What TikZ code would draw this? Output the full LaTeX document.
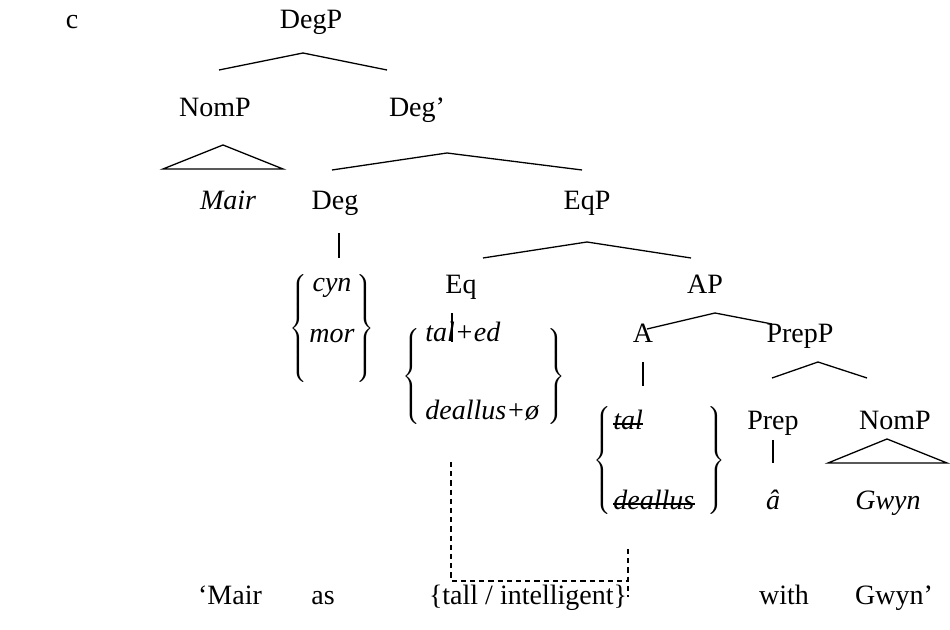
\documentclass[tikz,border=0pt]{standalone}
\usepackage{fontspec}
\setmainfont{Liberation Serif}
\usetikzlibrary{positioning}

% tall braces round the lexical alternatives
\newcommand{\bracel}[1]{$\left\{\vcenter{\hbox{\rule{0pt}{#1}}}\right.$}
\newcommand{\bracer}[1]{$\left.\vcenter{\hbox{\rule{0pt}{#1}}}\right\}$}
\delimitershortfall=0pt
\delimiterfactor=1000

\begin{document}
\begin{tikzpicture}[
        x=0.5pt, y=-0.5pt,
        every node/.style={inner sep=0pt, anchor=base, font=\fontsize{14}{16}\selectfont},
        lex/.style={font=\fontsize{14}{16}\selectfont\itshape},
        brc/.style={anchor=center},
        branch/.style={line width=0.65pt},
        strike/.style={line width=0.6pt},
        trace/.style={line width=0.65pt, dash pattern=on 2.6pt off 2pt}
    ]
    \useasboundingbox (0,0) rectangle (950,630);

    % category labels
    \node (ex) at (72,29) {c};
    \node (degp) at (311,29) {DegP};
    \node (nomp1) at (215,117) {NomP};
    \node (degbar) at (417,117) {Deg'};
    \node[lex] (mair) at (228,210) {Mair};
    \node (deg) at (335,210) {Deg};
    \node (eqp) at (587,210) {EqP};
    \node (eq) at (461,294) {Eq};
    \node (ap) at (705,294) {AP};
    \node (a) at (643,343) {A};
    \node (prepp) at (800,343) {PrepP};
    \node (prep) at (773,430) {Prep};
    \node (nomp2) at (895,430) {NomP};

    % words
    \node[lex] (cyn) at (332,292) {cyn};
    \node[lex] (mor) at (332,343) {mor};
    \node[lex, anchor=base west] (taled) at (425,342) {tal+ed};
    \node[lex, anchor=base west] (deallusnull) at (425,420) {deallus+ø};
    \node[lex, anchor=base west] (tal) at (613,430) {tal};
    \node[lex, anchor=base west] (deallus) at (613,510) {deallus};
    \node[lex] (prepword) at (773,510) {â};
    \node[lex] (gwyn) at (888,510) {Gwyn};

    % struck-out copies
    \draw[strike] ([yshift=3pt]tal.base west) -- ([yshift=3pt]tal.base east);
    \draw[strike] ([yshift=3pt]deallus.base west) -- ([yshift=3pt]deallus.base east);

    % braces
    \node[brc] (cynL) at (300,329) {\bracel{49pt}};
    \node[brc] (cynR) at (364,329) {\bracer{49pt}};
    \node[brc] (taledL) at (413,377) {\bracel{47pt}};
    \node[brc] (taledR) at (555,377) {\bracer{47pt}};
    \node[brc] (talL) at (604,461) {\bracel{51pt}};
    \node[brc] (talR) at (715,461) {\bracer{51pt}};

    % gloss
    \node (gl1) at (230,605) {`Mair};
    \node (gl2) at (323,605) {as};
    \node (gl3) at (528,605) {\{tall / intelligent\}};
    \node (gl4) at (784,605) {with};
    \node (gl5) at (894,605) {Gwyn'};

    % branch points
    \coordinate (degp-b) at (303,53);
    \coordinate (nomp1-t) at (219,70);
    \coordinate (degbar-t) at (387,70);
    \coordinate (nomp1-b) at (223,145);
    \coordinate (nomp1-bl) at (163,169);
    \coordinate (nomp1-br) at (283,169);
    \coordinate (degbar-b) at (447,153);
    \coordinate (deg-t) at (332,170);
    \coordinate (eqp-t) at (582,170);
    \coordinate (deg-b) at (339,233);
    \coordinate (cyn-t) at (339,258);
    \coordinate (eqp-b) at (587,242);
    \coordinate (eq-t) at (483,258);
    \coordinate (ap-t) at (691,258);
    \coordinate (eq-b) at (452,313);
    \coordinate (taled-t) at (452,342);
    \coordinate (ap-b) at (715,313);
    \coordinate (a-t) at (647,329);
    \coordinate (prepp-t) at (772,324);
    \coordinate (a-b) at (643,362);
    \coordinate (tal-t) at (643,386);
    \coordinate (prepp-b) at (818,362);
    \coordinate (prep-t) at (772,378);
    \coordinate (nomp2-t) at (867,378);
    \coordinate (prep-b) at (773,440);
    \coordinate (prepword-t) at (773,463);
    \coordinate (nomp2-b) at (887,439);
    \coordinate (nomp2-bl) at (828,463);
    \coordinate (nomp2-br) at (947,463);

    \draw[branch] (nomp1-t) -- (degp-b) -- (degbar-t);
    \draw[branch] (nomp1-b) -- (nomp1-bl) -- (nomp1-br) -- cycle;
    \draw[branch] (deg-t) -- (degbar-b) -- (eqp-t);
    \draw[branch] (deg-b) -- (cyn-t);
    \draw[branch] (eq-t) -- (eqp-b) -- (ap-t);
    \draw[branch] (eq-b) -- (taled-t);
    \draw[branch] (a-t) -- (ap-b) -- (prepp-t);
    \draw[branch] (a-b) -- (tal-t);
    \draw[branch] (prep-t) -- (prepp-b) -- (nomp2-t);
    \draw[branch] (prep-b) -- (prepword-t);
    \draw[branch] (nomp2-b) -- (nomp2-bl) -- (nomp2-br) -- cycle;

    % movement link
    \coordinate (tr1) at (451,462);
    \coordinate (tr2) at (451,581);
    \coordinate (tr3) at (628,581);
    \coordinate (tr4) at (628,549);
    \coordinate (tr5) at (628,597);
    \draw[trace] (tr1) -- (tr2) -- (tr3);
    \draw[trace] (tr4) -- (tr5);
\end{tikzpicture}
\end{document}
